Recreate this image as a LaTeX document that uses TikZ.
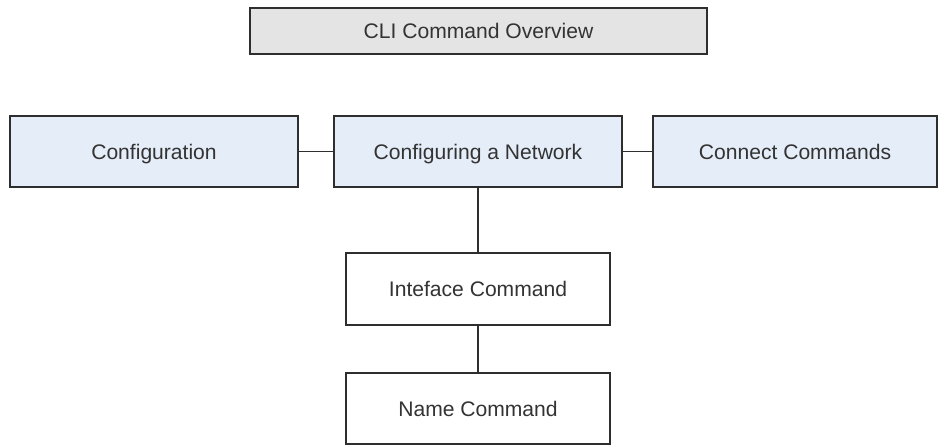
\documentclass[tikz,border=0pt]{standalone}
\usepackage{fontspec}
\setmainfont{Liberation Sans}
\usetikzlibrary{positioning}

\definecolor{titlegray}{HTML}{E4E4E4}
\definecolor{paleblue}{HTML}{E5EDF8}
\definecolor{edgegray}{HTML}{2E2E2E}
\definecolor{textgray}{HTML}{333333}

\begin{document}
\begin{tikzpicture}[
    font=\fontsize{12}{14}\selectfont,
    link/.style={draw=edgegray, line width=0.9pt},
    box/.style={draw=edgegray, line width=0.9pt, align=center, inner sep=2pt,
        text=textgray, text height=2.1ex, text depth=0.45ex},
    tbox/.style={box, fill=titlegray, minimum width=9.14cm, minimum height=0.92cm},
    cbox/.style={box, fill=paleblue, minimum width=5.76cm, minimum height=1.42cm},
    wbox/.style={box, fill=white, minimum width=5.27cm, minimum height=1.43cm}
]
\useasboundingbox (0,0) rectangle (18.8,-8.9);

% =========================================================
% 1) TOP TITLE
% =========================================================
\node[tbox] (overview) at (9.57,-0.62) {CLI Command Overview};

% =========================================================
% 2) MAIN ROW
% =========================================================
\node[cbox] (config) at (3.08,-3.03) {Configuration};
\node[cbox] (network) at (9.56,-3.03) {Configuring a Network};
\node[cbox, minimum width=5.68cm] (connect) at (15.90,-3.03) {Connect Commands};

\draw[link] (config.east) -- (network.west);
\draw[link] (network.east) -- (connect.west);

% =========================================================
% 3) SUB COMMANDS
% =========================================================
\node[wbox] (iface) at (9.56,-5.78) {Inteface Command};
\node[wbox] (name) at (9.56,-8.17) {Name Command};

\draw[link] (network.south) -- (iface.north);
\draw[link] (iface.south) -- (name.north);

\end{tikzpicture}
\end{document}
